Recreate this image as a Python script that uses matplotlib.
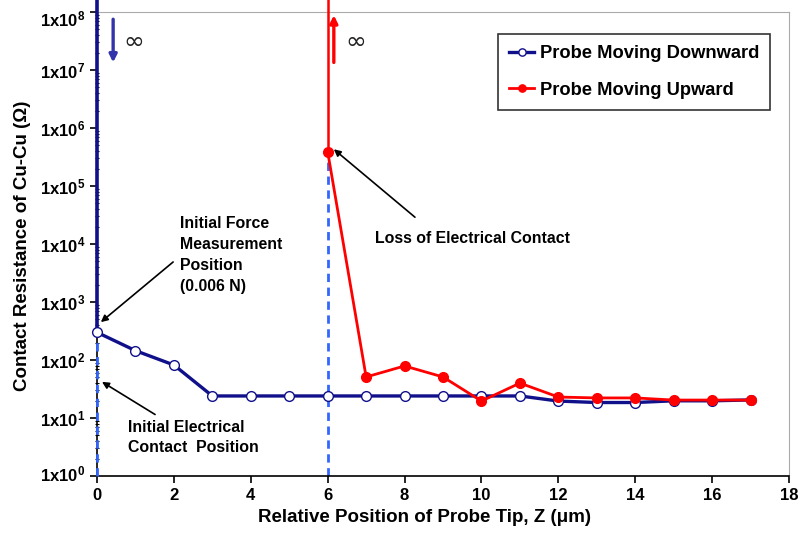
import math
import matplotlib
matplotlib.use("Agg")
import matplotlib.pyplot as plt
from matplotlib.ticker import FixedLocator, FuncFormatter, LogLocator, NullFormatter
from matplotlib.transforms import ScaledTranslation

plt.rcParams["font.family"] = ["Liberation Sans", "DejaVu Sans"]
plt.rcParams["font.weight"] = "bold"
plt.rcParams["axes.labelweight"] = "bold"
plt.rcParams["mathtext.fontset"] = "custom"
plt.rcParams["mathtext.rm"] = "Liberation Sans:bold"
plt.rcParams["mathtext.bf"] = "Liberation Sans:bold"
plt.rcParams["mathtext.default"] = "rm"

# Contact resistance (ohm) vs. relative probe tip position (um)
down_z = [0, 1, 2, 3, 4, 5, 6, 7, 8, 9, 10, 11, 12, 13, 14, 15, 16, 17]
down_r = [300, 145, 82, 24, 24, 24, 24, 24, 24, 24, 24, 24, 19.6, 18.5, 18.5, 19.8, 19.8, 20.5]

up_z = [6, 7, 8, 9, 10, 11, 12, 13, 14, 15, 16, 17]
up_r = [3.9e5, 51, 79, 51, 19.6, 40, 23, 22.2, 22.2, 20.4, 20.4, 20.4]

# open-circuit (infinite resistance) value, drawn off the top of the axis
r_open = 1.65e8

x_ticks = [0, 2, 4, 6, 8, 10, 12, 14, 16, 18]
y_exponents = [0, 1, 2, 3, 4, 5, 6, 7, 8]

navy = "#10108a"
red = "#ff0000"
dash_blue = "#3366ff"

fig = plt.figure(figsize=(8.03, 5.33), dpi=100)
ax = fig.add_axes([0.1208, 0.1069, 0.8618, 0.8706])
ax.set_yscale("log")
ax.set_xlim(0, 18)
ax.set_ylim(1, 1e8)

# dashed guides from contact points down to the axis
ax.plot([down_z[0], down_z[0]], [1, down_r[0]], ls=(0, (3, 2)), color=dash_blue, lw=2,
        clip_on=False, zorder=6)
ax.plot([up_z[0], up_z[0]], [1, up_r[0]], ls=(0, (3, 2)), color=dash_blue, lw=2, zorder=2)

# open-circuit legs of each curve
ax.plot([down_z[0], down_z[0]], [r_open, down_r[0]], color=navy, lw=2.6, clip_on=False, zorder=6)
ax.plot([up_z[0], up_z[0]], [r_open, up_r[0]], color=red, lw=1.8, clip_on=False, zorder=8)

ax.plot(down_z, down_r, color=navy, lw=2.4, marker="o", ms=7, mfc="white", mec=navy,
        mew=1.0, label="Probe Moving Downward", zorder=7, clip_on=False)
ax.plot(up_z, up_r, color=red, lw=2.0, marker="o", ms=7, mfc=red, mec=red,
        label="Probe Moving Upward", zorder=9)

# infinity markers
ax.annotate("", xy=(0.42, 1.35e7), xytext=(0.42, 7.5e7),
            arrowprops=dict(arrowstyle="-|>", color="#3333aa", lw=2.4, mutation_scale=11,
                            shrinkA=0, shrinkB=0))
ax.text(0.68, 3.0e7, "∞", fontsize=18, fontweight="normal", family="DejaVu Sans",
        va="center", ha="left", color="#222222")
ax.annotate("", xy=(6.16, 8.8e7), xytext=(6.16, 1.35e7),
            arrowprops=dict(arrowstyle="-|>", color=red, lw=2.4, mutation_scale=11,
                            shrinkA=0, shrinkB=0),
            annotation_clip=False)
ax.text(6.45, 3.0e7, "∞", fontsize=18, fontweight="normal", family="DejaVu Sans",
        va="center", ha="left", color="#222222")

# callouts
arrow_kw = dict(arrowstyle="-|>", color="black", lw=1.2, mutation_scale=10, shrinkA=0, shrinkB=0)
ax.annotate("", xy=(0.1, 450), xytext=(1.98, 4900), arrowprops=arrow_kw)
ax.text(2.16, 3.0e4, "Initial Force\nMeasurement\nPosition\n(0.006 N)", fontsize=11.4,
        va="top", ha="left", linespacing=1.5)
ax.annotate("", xy=(0.13, 42), xytext=(1.51, 11.5), arrowprops=arrow_kw)
ax.text(0.8, 9.3, "Initial Electrical\nContact  Position", fontsize=11.4,
        va="top", ha="left", linespacing=1.45)
ax.annotate("", xy=(6.16, 4.3e5), xytext=(8.27, 2.9e4), arrowprops=arrow_kw)
ax.text(7.23, 1.25e4, "Loss of Electrical Contact", fontsize=11.4, va="center", ha="left")

# axes styling
ax.xaxis.set_major_locator(FixedLocator(x_ticks))
ax.yaxis.set_major_locator(FixedLocator([10.0 ** e for e in y_exponents]))
ax.yaxis.set_minor_locator(LogLocator(base=10, subs=range(2, 10), numticks=20))
ax.yaxis.set_minor_formatter(NullFormatter())
ax.yaxis.set_major_formatter(FuncFormatter(lambda v, p: r"1x10$^{%d}$" % round(math.log10(v))))
ax.tick_params(axis="both", which="major", direction="out", length=5, width=1.2, labelsize=12)
ax.tick_params(axis="y", which="minor", direction="inout", length=3, width=0.8)
for lab in ax.get_xticklabels() + ax.get_yticklabels():
    lab.set_fontweight("bold")

# keep the end labels of the y axis inside the plot height
yticks = ax.yaxis.get_major_ticks()
for tick, dy in ((yticks[0], 3.5), (yticks[-1], -6.0)):
    lbl = tick.label1
    lbl.set_transform(lbl.get_transform() + ScaledTranslation(0, dy / 100, fig.dpi_scale_trans))

ax.spines["left"].set_linewidth(1.2)
ax.spines["bottom"].set_linewidth(1.2)
ax.spines["top"].set_color("#aaaaaa")
ax.spines["right"].set_color("#aaaaaa")

ax.set_xlabel("Relative Position of Probe Tip, Z (μm)", fontsize=13.5, fontweight="bold")
ax.xaxis.set_label_coords(0.473, -0.072)
ax.set_ylabel("Contact Resistance of Cu-Cu (Ω)", fontsize=13.5, fontweight="bold")
ax.yaxis.set_label_coords(-0.095, 0.497)

leg = ax.legend(loc="upper right", bbox_to_anchor=(0.9725, 0.952), fontsize=13.2, frameon=True,
                fancybox=False, edgecolor="black", handlelength=1.35, handletextpad=0.3,
                borderpad=0.6, labelspacing=1.05, borderaxespad=0, markerscale=0.75)
leg.get_frame().set_linewidth(1.2)
for t in leg.get_texts():
    t.set_fontweight("bold")

fig.savefig("out.png", dpi=100)
